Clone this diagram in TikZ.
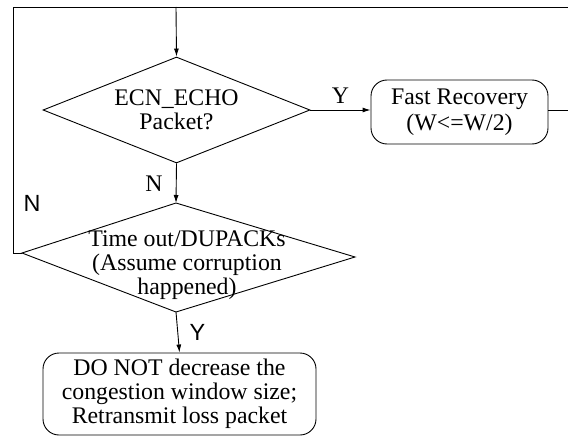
\documentclass[tikz,border=0pt]{standalone}
\usepackage{fontspec}
\setmainfont{Liberation Serif}
\setsansfont{Liberation Sans}
\usetikzlibrary{shapes.geometric,arrows.meta}

\begin{document}
\begin{tikzpicture}[x=1pt,y=-1pt,
  every node/.style={font=\fontsize{23.8}{24}\selectfont},
  decision/.style={draw,shape=diamond,aspect=2.5,inner sep=0pt,line width=0.9pt,align=center},
  process/.style={draw,rounded corners=16pt,line width=0.9pt,align=center,inner sep=0pt},
  flow/.style={line width=0.9pt,-{Latex[length=8pt,width=5pt]}},
  link/.style={line width=0.9pt},
  sflabel/.style={font=\fontsize{23.4}{24}\sffamily}]
\useasboundingbox (0,0) rectangle (568,436);
\clip (0,0) rectangle (568,436);
\node[decision, minimum width=267pt, minimum height=106pt] (ecn) at (176.5,110) {ECN\_ECHO\\Packet?};
\node[process, minimum width=177pt, minimum height=64pt] (fast) at (459.5,112) {Fast Recovery\\[2pt](W<=W/2)};
\coordinate (tt) at (176,203);
\coordinate (tl) at (22,253);
\coordinate (tb) at (176,312);
\coordinate (tr) at (355,257);
\node[align=center] (timeout) at (187,265) {Time out/DUPACKs\\(Assume corruption\\happened)};
\node[process, minimum width=273pt, minimum height=82pt] (keep) at (179.5,394) {DO NOT decrease the\\congestion window size;\\Retransmit loss packet};
\coordinate (topl) at (13,7);
\coordinate (topm) at (176,7);
\coordinate (topr) at (573,7);
\coordinate (rightm) at (573,110);
\coordinate (leftb) at (13,253);
\draw[link] (tt) -- (tr) -- (tb) -- (tl) -- cycle;
\draw[flow] (topm) -- (ecn.north);
\draw[flow] (ecn.east) -- node[above=3pt] (yfast) {Y} (ecn.east -| fast.west);
\draw[flow] (ecn.south) -- node[left=10pt] (nnext) {N} (tt);
\draw[link] (ecn.east -| fast.east) -- (rightm) -- (topr) -- (topl) -- (leftb) -- (tl);
\node[sflabel] (nloop) at (32,203) {N};
\draw[flow] (tb) -- node[right=8pt, sflabel] (ykeep) {Y} (keep.north);
\end{tikzpicture}
\end{document}
